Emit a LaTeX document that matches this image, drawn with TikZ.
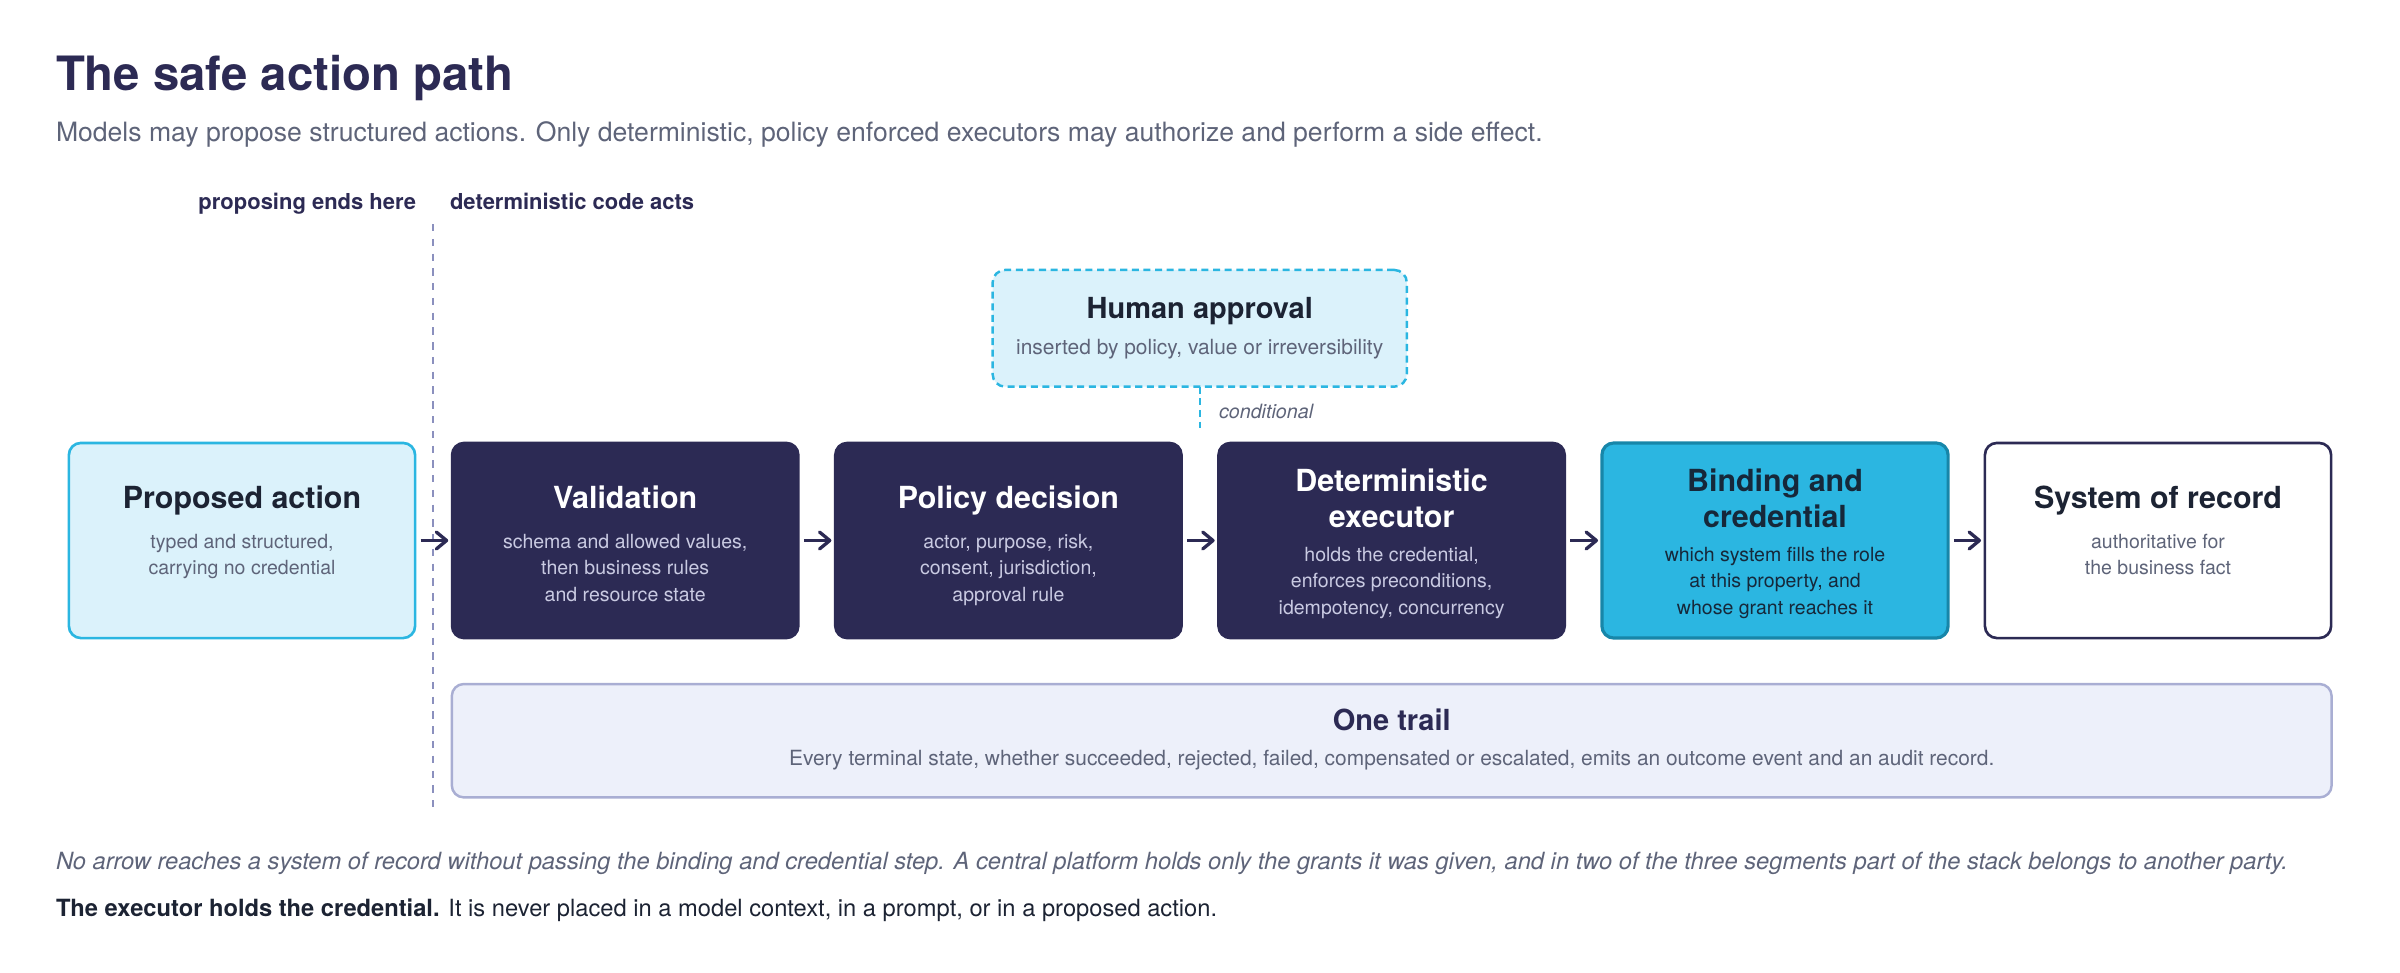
\documentclass[tikz,border=0pt]{standalone}
\usepackage{fontspec}
\setmainfont{TeX Gyre Heros}
\usetikzlibrary{arrows.meta}
\definecolor{navy}{HTML}{2C2A54}
\definecolor{ink}{HTML}{1C2333}
\definecolor{muted}{HTML}{5E6479}
\definecolor{lav}{HTML}{C9CAE2}
\definecolor{cyanc}{HTML}{2BB6E1}
\definecolor{cyanlight}{HTML}{DBF2FB}
\definecolor{cyandark}{HTML}{1786A9}
\definecolor{trailfill}{HTML}{EDF0FA}
\definecolor{trailedge}{HTML}{A9AED3}
\definecolor{divcol}{HTML}{8B90BE}
\definecolor{bindtext}{HTML}{16283A}
\tikzset{
  every node/.style={inner sep=0pt, outer sep=0pt},
  stepbox/.style={rounded corners=3.4pt, minimum width=3.46cm, minimum height=1.95cm, line width=0.75pt},
  lightbox/.style={stepbox, fill=cyanlight, draw=cyanc},
  darkbox/.style={stepbox, fill=navy, draw=navy},
  bindbox/.style={stepbox, fill=cyanc, draw=cyandark, line width=0.9pt},
  recbox/.style={stepbox, fill=white, draw=navy},
  ttl/.style={font=\fontsize{8.65}{10.07}\selectfont\bfseries, anchor=base, align=center},
  subt/.style={font=\fontsize{5.55}{7.45}\selectfont, anchor=base, align=center},
  ttlb/.style={font=\fontsize{8.25}{10}\selectfont\bfseries, anchor=base, align=center},
  subtb/.style={font=\fontsize{5.95}{7.45}\selectfont, anchor=base, align=center},
  arr/.style={draw=navy, line width=0.95pt, -{Straight Barb[length=2.9pt, width=4.8pt, line width=0.95pt, round]}, shorten <=1.6pt, shorten >=1.1pt},
  divider/.style={draw=divcol, line width=0.6pt, dash pattern=on 2.1pt off 2.1pt},
  hdash/.style={draw=cyanc, line width=0.7pt, dash pattern=on 2pt off 1.3pt},
}
\begin{document}
\begin{tikzpicture}[x=0.01cm, y=-0.01cm]
\useasboundingbox (0,0) rectangle (2400,972);
% header
\node[anchor=base west, font=\fontsize{13.45}{15}\selectfont\bfseries, text=navy] (title) at (56,90) {The safe action path};
\node[anchor=base west, font=\fontsize{7.56}{9}\selectfont, text=muted] (subtitle) at (56,141.7) {Models may propose structured actions. Only deterministic, policy enforced executors may authorize and perform a side effect.};
\node[anchor=base east, font=\fontsize{6.25}{7}\selectfont\bfseries, text=navy] (lblleft) at (416,209) {proposing ends here};
\node[anchor=base west, font=\fontsize{6.25}{7}\selectfont\bfseries, text=navy] (lblright) at (450,209) {deterministic code acts};
% divider
\coordinate (divtop) at (433,224);
\coordinate (divbot) at (433,810);
\draw[divider] (divtop) -- (divbot);
% human approval
\node[rounded corners=3.6pt, minimum width=4.14cm, minimum height=1.167cm, fill=cyanlight, draw=cyanc, line width=0.7pt, dash pattern=on 2pt off 1.3pt] (ha) at (1199.7,328.3) {};
\node[ttlb, text=ink] (hat) at (1199.7,318) {Human approval};
\node[subtb, text=muted] (has) at (1199.7,354.6) {inserted by policy, value or irreversibility};
\coordinate (haend) at (1200,428.3);
\draw[hdash] (ha.south -| haend) -- (haend);
\node[anchor=base west, font=\fontsize{5.6}{7}\selectfont\itshape, text=muted] (cond) at (1219,418) {conditional};
% step boxes
\node[lightbox] (pa) at (242,540.5) {};
\node[darkbox] (val) at (625.2,540.5) {};
\node[darkbox] (pol) at (1008.4,540.5) {};
\node[darkbox] (exe) at (1391.6,540.5) {};
\node[bindbox] (bind) at (1775,540.5) {};
\node[recbox] (sor) at (2158,540.5) {};
% texts (anchor = baseline of the last line)
\node[ttl, text=ink] (pat) at (242,508) {Proposed action};
\node[subt, text=muted] (pas) at (242,574.8) {typed and structured,\\carrying no credential};
\node[ttl, text=white] (valt) at (625.2,508) {Validation};
\node[subt, text=lav] (vals) at (625.2,601.1) {schema and allowed values,\\then business rules\\and resource state};
\node[ttl, text=white] (polt) at (1008.4,508) {Policy decision};
\node[subt, text=lav] (pols) at (1008.4,601.1) {actor, purpose, risk,\\consent, jurisdiction,\\approval rule};
\node[ttl, text=white] (exet) at (1391.6,527.1) {Deterministic\\executor};
\node[subt, text=lav] (exes) at (1391.6,614.1) {holds the credential,\\enforces preconditions,\\idempotency, concurrency};
\node[ttl, text=bindtext] (bindt) at (1775,527.1) {Binding and\\credential};
\node[subt, text=bindtext] (binds) at (1775,614.1) {which system fills the role\\at this property, and\\whose grant reaches it};
\node[ttl, text=ink] (sort) at (2158,508) {System of record};
\node[subt, text=muted] (sors) at (2158,574.8) {authoritative for\\the business fact};
% arrows
\draw[arr] (pa.east) -- (val.west);
\draw[arr] (val.east) -- (pol.west);
\draw[arr] (pol.east) -- (exe.west);
\draw[arr] (exe.east) -- (bind.west);
\draw[arr] (bind.east) -- (sor.west);
% one trail
\node[rounded corners=3.4pt, minimum width=18.787cm, minimum height=1.133cm, fill=trailfill, draw=trailedge, line width=0.7pt] (trail) at (1391.7,740.7) {};
\node[ttlb, text=navy] (trailt) at (1391.7,730) {One trail};
\node[subtb, text=muted] (trails) at (1391.7,765.3) {Every terminal state, whether succeeded, rejected, failed, compensated or escalated, emits an outcome event and an audit record.};
% footer
\node[anchor=base west, font=\fontsize{6.74}{8}\selectfont\itshape, text=muted] (note) at (56,869) {No arrow reaches a system of record without passing the binding and credential step. A central platform holds only the grants it was given, and in two of the three segments part of the stack belongs to another party.};
\node[anchor=base west, font=\fontsize{6.74}{8}\selectfont, text=ink] (last) at (56,916) {\textbf{The executor holds the credential.} It is never placed in a model context, in a prompt, or in a proposed action.};
\end{tikzpicture}
\end{document}
